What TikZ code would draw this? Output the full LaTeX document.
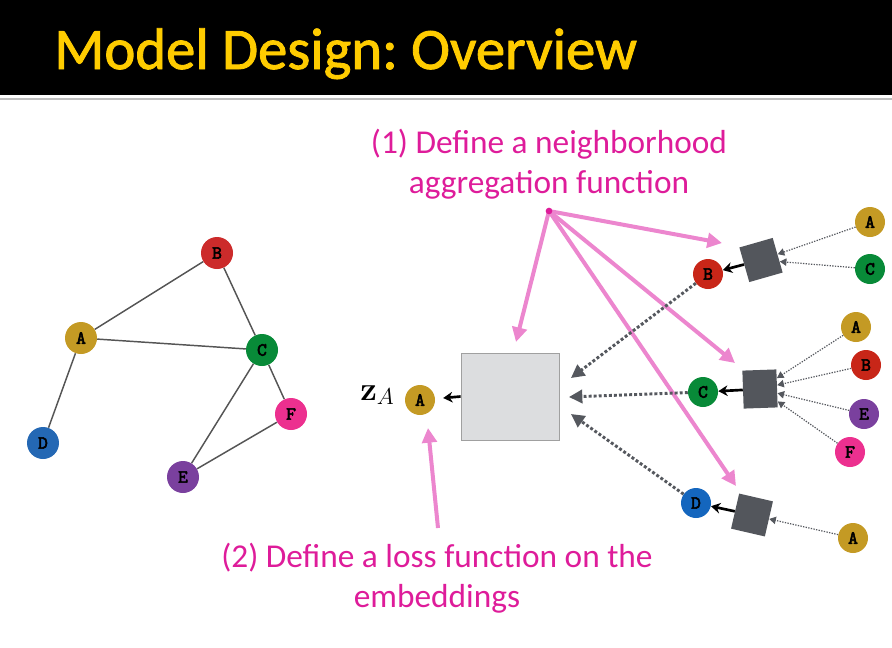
\documentclass[tikz,border=0pt]{standalone}
\usepackage[no-math]{fontspec}
\setmainfont{Carlito}
\newfontfamily\titlefont[FakeBold=1.5]{Carlito}
\newfontfamily\labfont[FakeBold=3]{lmmono10-regular.otf}
\usetikzlibrary{arrows.meta}
\definecolor{titleyellow}{RGB}{255,204,0}
\definecolor{pinktxt}{RGB}{222,28,154}
\definecolor{pinkline}{RGB}{236,134,206}
\definecolor{edgegray}{RGB}{85,85,85}
\definecolor{dotgray}{RGB}{85,88,94}
\definecolor{sqgray}{RGB}{83,86,92}
\definecolor{boxfill}{RGB}{220,221,223}
\definecolor{boxline}{RGB}{160,160,160}
\definecolor{cA}{RGB}{196,154,36}
\definecolor{cB}{RGB}{200,38,24}
\definecolor{cBl}{RGB}{204,43,43}
\definecolor{cC}{RGB}{8,138,56}
\definecolor{cD}{RGB}{20,102,190}
\definecolor{cDl}{RGB}{36,104,180}
\definecolor{cE}{RGB}{122,64,158}
\definecolor{cF}{RGB}{236,48,143}
\begin{document}
\frenchspacing
\begin{tikzpicture}[x=0.75pt,y=-0.75pt,
  vnode/.style={circle, inner sep=0pt, minimum size=24pt, text=black,
    font=\labfont\fontsize{14}{14}\selectfont},
  rnode/.style={vnode, minimum size=22.5pt},
  sqbox/.style={fill=sqgray, inner sep=0pt, minimum width=26pt, minimum height=27pt},
  gedge/.style={draw=edgegray, line width=1.1pt},
  pinkarrow/.style={draw=pinkline, line width=3pt, -{Triangle[length=11pt,width=11pt]}},
  thickdot/.style={draw=dotgray, line width=2.2pt, dash pattern=on 2.2pt off 1.6pt,
    -{Triangle[length=10pt,width=10pt]}},
  thindot/.style={draw=dotgray, line width=0.9pt, dash pattern=on 1pt off 1pt,
    -{Triangle[length=5pt,width=5.5pt]}},
  blackarrow/.style={draw=black, line width=2pt, -{Stealth[length=7pt,width=8pt]}},
  pinktext/.style={text=pinktxt, align=center, inner sep=0pt,
    font=\fontsize{25}{30}\selectfont}
]
\useasboundingbox (0,0) rectangle (892,647);
% title bar
\fill[black] (0,0) rectangle (892,95);
\draw[draw={rgb,255:red,190;green,190;blue,190}, line width=1.5pt] (0,98.5) -- (892,98.5);
\node[anchor=base west, inner sep=0pt, text=titleyellow,
  font=\titlefont\fontsize{44}{50}\selectfont] (title) at (54,69) {Model Design: Overview};

% left graph
\node[vnode, fill=cA] (gA) at (81,338) {A};
\node[vnode, fill=cBl] (gB) at (217,253) {B};
\node[vnode, fill=cC] (gC) at (262,350) {C};
\node[vnode, fill=cDl] (gD) at (43,443) {D};
\node[vnode, fill=cE] (gE) at (183,477) {E};
\node[vnode, fill=cF] (gF) at (291,414) {F};
\draw[gedge] (gA) -- (gB);
\draw[gedge] (gA) -- (gC);
\draw[gedge] (gB) -- (gC);
\draw[gedge] (gA) -- (gD);
\draw[gedge] (gC) -- (gF);
\draw[gedge] (gC) -- (gE);
\draw[gedge] (gE) -- (gF);

% middle
\node[fill=boxfill, draw=boxline, line width=0.6pt, minimum width=73.5pt,
  minimum height=65.25pt, inner sep=0pt] (box) at (510,396.5) {};
\node[rnode, fill=cA] (zA) at (420,400) {A};
\node[anchor=base west, inner sep=0pt, font=\fontsize{24}{28}\selectfont] (zlab) at (360,400) {$\mathbf{z}_{A}$};
\draw[blackarrow, shorten >=6pt] (box.west) -- (zA);

% right group 1
\node[rnode, fill=cB] (t1) at (708,274) {B};
\node[sqbox, rotate=16] (s1) at (761,260) {};
\node[rnode, fill=cA] (n1a) at (870,222) {A};
\node[rnode, fill=cC] (n1c) at (870,269) {C};
\draw[thindot] (n1a) -- (s1);
\draw[thindot] (n1c) -- (s1);
\draw[blackarrow] (s1) -- (t1);

% right group 2
\node[rnode, fill=cC] (t2) at (703,392) {C};
\node[sqbox, minimum width=25.5pt, minimum height=28.5pt, rotate=2] (s2) at (760,389) {};
\node[rnode, fill=cA] (n2a) at (856,327) {A};
\node[rnode, fill=cB] (n2b) at (866,365) {B};
\node[rnode, fill=cE] (n2e) at (864,414) {E};
\node[rnode, fill=cF] (n2f) at (850,452) {F};
\draw[thindot] (n2a) -- (s2);
\draw[thindot] (n2b) -- (s2);
\draw[thindot] (n2e) -- (s2);
\draw[thindot] (n2f) -- (s2);
\draw[blackarrow] (s2) -- (t2);

% right group 3
\node[rnode, fill=cD] (t3) at (696,503) {D};
\node[sqbox, rotate=-13] (s3) at (752,515) {};
\node[rnode, fill=cA] (n3a) at (853,538) {A};
\draw[thindot] (n3a) -- (s3);
\draw[blackarrow] (s3) -- (t3);

% pink annotation arrows
\coordinate (src) at (549,211);
\coordinate (p1) at (722,243);
\coordinate (p2) at (516,342);
\coordinate (p3) at (735,363);
\coordinate (p4) at (736,486);
\coordinate (p5tail) at (438,528);
\coordinate (p5) at (428,428);
\draw[pinkarrow] (src) -- (p1);
\draw[pinkarrow] (src) -- (p2);
\draw[pinkarrow] (src) -- (p3);
\draw[pinkarrow] (src) -- (p4);
\draw[pinkarrow] (p5tail) -- (p5);
\fill[pinktxt] (src) circle (2.5pt);

% thick dotted arrows to the box
\coordinate (d1) at (571,378);
\coordinate (d2) at (569,397);
\coordinate (d3) at (571,414);
\draw[thickdot] (t1) -- (d1);
\draw[thickdot] (t2) -- (d2);
\draw[thickdot] (t3) -- (d3);

% texts
\node[pinktext, anchor=base] (txt1) at (549,193) {(1) Define a neighborhood\\aggregation function};
\node[pinktext, anchor=base] (txt2) at (437,607) {(2) Define a loss function on the\\embeddings};
\end{tikzpicture}
\end{document}
